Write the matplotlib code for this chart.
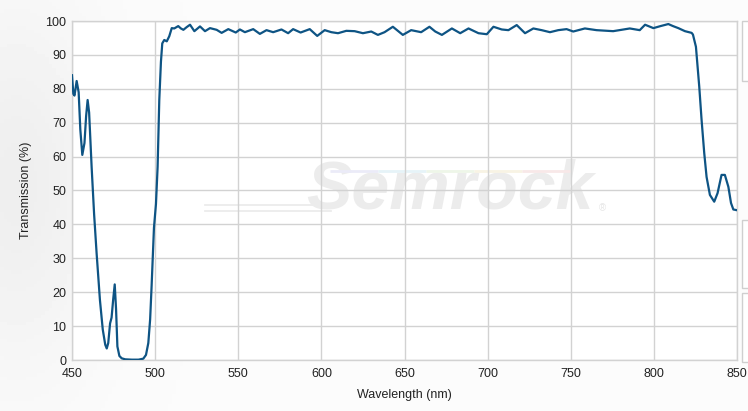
#!/usr/bin/env python3
"""Transmission spectrum of a filter, redrawn from a vendor chart."""

import matplotlib
matplotlib.use('Agg')
import matplotlib.pyplot as plt
import numpy as np
from matplotlib.patches import Rectangle

plt.rcParams['font.family'] = ['Liberation Sans', 'DejaVu Sans']

# Data
wavelength_nm = [
    450.0, 450.8, 451.5, 452.8, 454.0, 455.0, 456.2, 457.5, 458.5, 459.4,
    460.3, 461.8, 463.3, 464.8, 466.8, 468.5, 470.0, 470.9, 471.8, 472.9,
    473.8, 474.8, 475.7, 476.5, 477.3, 478.5, 479.9, 482.0, 486.0, 490.0,
    492.9, 494.5, 495.9, 497.0, 497.9, 499.3, 500.5, 501.5, 502.5, 503.5,
    504.3, 505.5, 507.0, 508.5, 510.0, 511.5, 513.9, 515.5, 517.0, 519.0,
    521.0, 523.6, 525.5, 527.0, 530.0, 533.0, 537.0, 540.0, 544.0, 548.5,
    551.0, 554.0, 559.0, 563.0, 567.0, 571.0, 576.0, 580.0, 583.0, 587.5,
    593.0, 597.5, 602.0, 606.0, 610.0, 615.0, 620.0, 625.0, 630.0, 634.0,
    638.0, 643.0, 645.5, 649.0, 654.0, 660.0, 665.0, 668.5, 672.5, 678.5,
    683.5, 688.5, 694.5, 699.5, 703.5, 708.5, 712.5, 717.5, 722.5, 727.5,
    732.5, 737.5, 742.5, 747.5, 751.5, 758.5, 765.5, 775.5, 785.5, 791.5,
    794.7, 799.7, 804.0, 808.7, 811.5, 814.7, 818.7, 822.7, 823.5, 825.3,
    827.3, 828.7, 830.3, 831.7, 833.7, 836.3, 838.3, 840.7, 842.7, 844.8,
    846.4, 847.8, 849.8,
]
transmission_pct = [
    84.0, 78.5, 78.0, 82.3, 79.0, 68.0, 60.5, 64.0, 72.0, 76.7,
    73.0, 57.0, 43.0, 31.5, 17.7, 9.0, 4.5, 3.4, 5.0, 10.8,
    12.5, 18.0, 22.3, 15.0, 4.0, 1.2, 0.5, 0.2, 0.1, 0.1,
    0.4, 1.5, 5.0, 12.0, 22.0, 39.0, 46.0, 57.0, 76.7, 88.0,
    93.4, 94.4, 94.0, 95.5, 97.9, 97.8, 98.5, 97.8, 97.4, 98.2,
    98.9, 97.0, 97.8, 98.4, 97.0, 97.9, 97.4, 96.5, 97.6, 96.6,
    97.5, 96.7, 97.6, 96.2, 97.3, 96.7, 97.5, 96.4, 97.6, 96.6,
    97.6, 95.6, 97.3, 96.7, 96.4, 97.1, 97.0, 96.4, 96.9, 95.9,
    96.7, 98.3, 97.3, 95.9, 97.3, 96.7, 98.3, 96.9, 95.9, 97.8,
    96.4, 97.8, 96.4, 96.1, 98.3, 97.5, 97.3, 98.8, 96.4, 97.8,
    97.3, 96.7, 97.3, 97.6, 96.9, 97.8, 97.3, 97.0, 97.8, 97.3,
    98.9, 97.9, 98.5, 99.1, 98.5, 97.9, 97.0, 96.5, 96.0, 92.4,
    80.6, 70.8, 61.0, 54.0, 48.7, 46.7, 49.2, 54.6, 54.6, 51.1,
    46.3, 44.4, 44.2,
]
x_ticks = [450, 500, 550, 600, 650, 700, 750, 800, 850]
y_ticks = [0, 10, 20, 30, 40, 50, 60, 70, 80, 90, 100]

LINE_COLOR = '#0e5484'
GRID_COLOR = '#d2d2d2'
TEXT_COLOR = '#222222'

fig = plt.figure(figsize=(7.48, 4.11), dpi=100)
fig.patch.set_facecolor('#fafafa')

# soft grey gradient behind the y label, like the original page
bg = fig.add_axes([0, 0, 1, 1], zorder=-10)
gx = np.linspace(0, 1, 200)
gy = np.linspace(0, 1, 120)
GX, GY = np.meshgrid(gx, gy)
shade = 0.985 - 0.05 * np.exp(-((GX - 0.02) / 0.12) ** 2) * np.exp(-((GY - 0.55) / 0.45) ** 2)
bg.imshow(shade, cmap='gray', vmin=0, vmax=1, aspect='auto', extent=[0, 1, 0, 1], origin='lower')
bg.axis('off')

ax = fig.add_axes([72 / 748, 1 - 360 / 411, (737 - 72) / 748, (360 - 21) / 411])
ax.set_facecolor('white')

# watermark
ax.text(0.568, 0.5, 'Semrock', transform=ax.transAxes, ha='center', va='center',
        fontsize=49, fontweight='bold', fontstyle='italic', color='#ececec', zorder=0.5)
ax.text(0.798, 0.448, '\u00ae', transform=ax.transAxes, ha='center', va='center',
        fontsize=7, color='#e6e6e6', zorder=0.5)
for yy in (0.457, 0.44):
    ax.plot([0.2, 0.39], [yy, yy], transform=ax.transAxes, color='#ececec', lw=1.3, zorder=0.5)
rainbow = ['#ebebf8', '#e6f3f8', '#eef6e8', '#f8f3e4', '#f8e8e8']
seg = (0.749 - 0.388) / len(rainbow)
for i, c in enumerate(rainbow):
    ax.plot([0.388 + i * seg, 0.388 + (i + 1) * seg], [0.557, 0.557], transform=ax.transAxes,
            color=c, lw=2.0, zorder=0.5, solid_capstyle='butt')

ax.plot(wavelength_nm, transmission_pct, color=LINE_COLOR, lw=1.6, zorder=3)

ax.set_xlim(450, 850)
ax.set_ylim(0, 100)
ax.set_xticks(x_ticks)
ax.set_yticks(y_ticks)
ax.grid(True, color=GRID_COLOR, lw=1.0, zorder=1)
ax.set_axisbelow(True)
for s in ax.spines.values():
    s.set_color(GRID_COLOR)
    s.set_linewidth(1.0)
ax.tick_params(axis='y', length=0, labelsize=9, colors=TEXT_COLOR, pad=4)
ax.tick_params(axis='x', length=0, labelsize=9, colors=TEXT_COLOR, pad=6)
ax.set_xlabel('Wavelength (nm)', fontsize=9, color=TEXT_COLOR, labelpad=6)
ax.set_ylabel('Transmission (%)', fontsize=9, color=TEXT_COLOR, labelpad=10)

# clipped side panels at the right edge
for top, bot in [(21, 81), (220, 288), (293, 362)]:
    fig.patches.append(Rectangle((742 / 748, 1 - bot / 411), 0.02, (bot - top) / 411,
                                 transform=fig.transFigure, facecolor='white',
                                 edgecolor='#cfcfcf', lw=1.0))

fig.savefig('out.png', dpi=100, facecolor=fig.get_facecolor())
